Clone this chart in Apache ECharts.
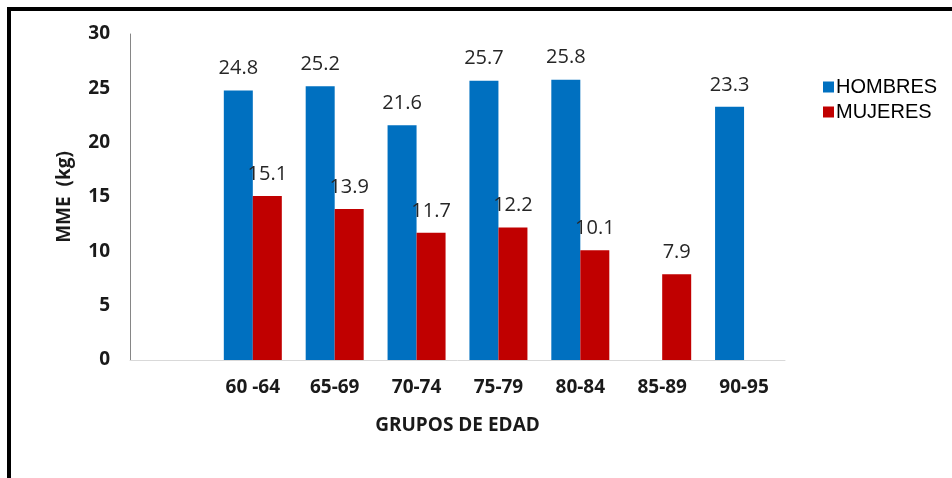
<!DOCTYPE html>
<html>
<head>
<meta charset="utf-8">
<script src="https://cdn.jsdelivr.net/npm/echarts@6/dist/echarts.min.js"></script>
<style>
html,body{margin:0;padding:0;background:#fff;}
#chart{width:952px;height:478px;}
</style>
</head>
<body>
<div id="chart"></div>
<script>
var categories = ['', '60 -64', '65-69', '70-74', '75-79', '80-84', '85-89', '90-95'];
var hombres = [null, 24.8, 25.2, 21.6, 25.7, 25.8, null, 23.3];
var mujeres = [null, 15.1, 13.9, 11.7, 12.2, 10.1, 7.9, null];
var yTicks = [0, 5, 10, 15, 20, 25, 30];

var chart = echarts.init(document.getElementById('chart'), null, {renderer: 'canvas'});
var labelStyle = {
  show: true,
  position: 'top',
  distance: 12,
  fontFamily: 'Open Sans',
  fontSize: 20,
  color: '#262626'
};
chart.setOption({
  animation: false,
  backgroundColor: '#fff',
  graphic: [{
    type: 'rect',
    shape: {x: 9, y: 9, width: 1000, height: 520},
    style: {fill: 'none', stroke: '#000', lineWidth: 4},
    silent: true
  }],
  grid: {left: 130, right: 167, top: 34, bottom: 118},
  legend: {
    orient: 'vertical',
    left: 818,
    top: 72,
    itemWidth: 11,
    itemHeight: 11,
    itemGap: 5,
    icon: 'rect',
    textStyle: {fontFamily: 'Liberation Sans', fontSize: 20, color: '#000', padding: [0, 0, 0, -3]},
    data: ['HOMBRES', 'MUJERES']
  },
  xAxis: {
    type: 'category',
    data: categories,
    name: 'GRUPOS DE EDAD',
    nameLocation: 'middle',
    nameGap: 56,
    nameTextStyle: {fontFamily: 'Open Sans', fontWeight: 'bold', fontSize: 19, color: '#1a1a1a'},
    axisLine: {lineStyle: {color: '#d9d9d9', width: 1}},
    axisTick: {show: false},
    axisLabel: {fontFamily: 'Open Sans', fontWeight: 'bold', fontSize: 19, color: '#1a1a1a', margin: 18, interval: 0}
  },
  yAxis: {
    type: 'value',
    min: yTicks[0],
    max: yTicks[yTicks.length - 1],
    interval: yTicks[1] - yTicks[0],
    name: 'MME  (kg)',
    nameLocation: 'middle',
    nameGap: 56,
    nameRotate: 90,
    nameTextStyle: {fontFamily: 'Open Sans', fontWeight: 'bold', fontSize: 19, color: '#1a1a1a', whiteSpace: 'pre'},
    axisLine: {show: true, lineStyle: {color: '#868686', width: 1}},
    axisTick: {show: false},
    splitLine: {show: false},
    axisLabel: {fontFamily: 'Open Sans', fontWeight: 'bold', fontSize: 19, color: '#1a1a1a', margin: 20}
  },
  series: [{
    name: 'HOMBRES',
    type: 'bar',
    data: hombres,
    barWidth: 29,
    barGap: '0%',
    itemStyle: {color: '#0070C0'},
    label: labelStyle
  }, {
    name: 'MUJERES',
    type: 'bar',
    data: mujeres,
    barWidth: 29,
    barGap: '0%',
    itemStyle: {color: '#C00000'},
    label: labelStyle
  }]
});
</script>
</body>
</html>
